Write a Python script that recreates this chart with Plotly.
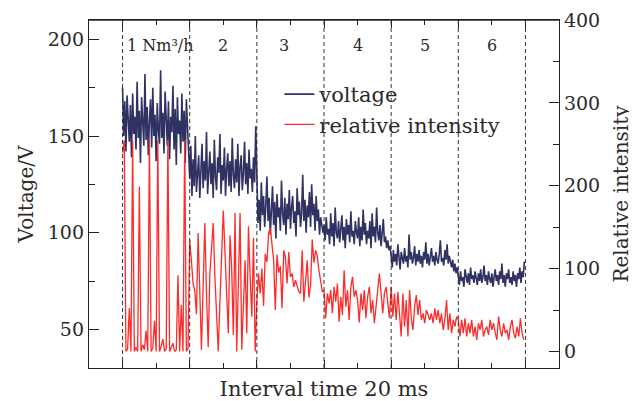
import numpy as np
import plotly.graph_objects as go

# ---------------- data ----------------
VOLT_SAMPLES_PER_SECTION = 60
INT_SAMPLES_PER_SECTION = 40
section_labels = ["1 Nm³/h", "2", "3", "4", "5", "6"]
boundary_ticks = [0, 1, 2, 3, 4, 5, 6]

volt_s1 = [175, 150, 168, 142, 171, 155, 147, 166, 139, 172, 151, 160, 143, 178, 149, 163, 136, 170, 154, 145,
           182, 148, 165, 140, 158, 169, 144, 175, 150, 161, 137, 167, 153, 146, 184, 149, 162, 141, 173, 155,
           145, 168, 138, 160, 152, 176, 143, 164, 135, 170, 151, 158, 141, 172, 147, 163, 136, 169, 150, 142]
volt_s2 = [128, 145, 119, 138, 124, 150, 121, 134, 140, 118, 131, 146, 123, 137, 127, 152, 120, 133, 142, 125,
           136, 118, 148, 129, 122, 139, 131, 151, 120, 135, 127, 144, 119, 133, 141, 124, 137, 121, 149, 130,
           123, 138, 126, 146, 119, 134, 140, 122, 131, 147, 125, 136, 120, 143, 128, 133, 121, 139, 126, 155]
volt_s3 = [122, 105, 117, 101, 126, 109, 119, 103, 114, 129, 106, 118, 99, 112, 124, 104, 116, 97, 120, 108,
           113, 101, 127, 110, 104, 118, 99, 115, 107, 122, 102, 113, 119, 105, 111, 98, 123, 109, 116, 103,
           110, 130, 106, 117, 100, 114, 108, 121, 103, 125, 109, 115, 101, 119, 106, 112, 99, 108, 102, 100]
volt_s4 = [104, 96, 108, 99, 102, 94, 110, 98, 105, 93, 113, 100, 97, 106, 95, 102, 109, 96, 103, 92,
           107, 99, 104, 95, 111, 98, 101, 94, 106, 100, 97, 108, 93, 103, 96, 112, 99, 105, 94, 101,
           97, 106, 92, 110, 98, 103, 95, 113, 100, 96, 104, 93, 99, 107, 95, 98, 92, 96, 91, 93]
volt_s5 = [88, 82, 91, 85, 89, 83, 94, 86, 81, 90, 87, 84, 92, 85, 88, 82, 99, 86, 90, 84,
           87, 93, 83, 89, 85, 91, 84, 88, 82, 90, 86, 95, 84, 89, 83, 87, 92, 85, 88, 83,
           90, 86, 84, 89, 96, 85, 87, 83, 91, 86, 94, 84, 88, 85, 82, 86, 80, 84, 79, 82]
volt_s6 = [78, 73, 80, 75, 77, 72, 81, 76, 74, 79, 73, 82, 76, 78, 74, 80, 77, 73, 79, 75,
           81, 74, 77, 83, 75, 78, 73, 80, 76, 74, 79, 72, 77, 81, 75, 78, 73, 80, 76, 84,
           74, 78, 72, 79, 76, 81, 74, 77, 73, 80, 75, 78, 72, 79, 76, 82, 74, 80, 77, 85]

inten_s1 = [240, 255, 0, 3, 52, 0, 255, 0, 5, 0, 199, 0, 8, 2, 25, 0, 255, 0, 4, 37,
            0, 255, 0, 6, 15, 0, 3, 255, 0, 5, 10, 0, 2, 92, 0, 56, 0, 255, 0, 4]
inten_s2 = [134, 110, 82, 73, 45, 143, 70, 2, 80, 155, 70, 5, 94, 120, 155, 90, 40, 0, 60, 115,
            170, 120, 75, 22, 140, 100, 20, 167, 0, 90, 167, 2, 60, 110, 22, 151, 90, 42, 137, 0]
inten_s3 = [60, 94, 70, 100, 55, 118, 108, 143, 149, 131, 110, 50, 117, 95, 103, 52, 122, 114, 82, 120,
            90, 94, 78, 86, 80, 72, 70, 122, 60, 82, 110, 65, 80, 135, 107, 122, 115, 98, 85, 72]
inten_s4 = [74, 40, 70, 58, 74, 46, 78, 60, 82, 36, 66, 44, 98, 54, 74, 38, 78, 90, 66, 74,
            62, 35, 70, 50, 74, 40, 66, 78, 46, 62, 34, 58, 74, 94, 66, 46, 70, 78, 58, 40]
inten_s5 = [78, 42, 70, 38, 72, 46, 18, 70, 30, 62, 18, 74, 40, 26, 54, 68, 44, 62, 38, 46,
            34, 50, 44, 38, 46, 34, 52, 38, 50, 34, 46, 26, 38, 62, 26, 46, 22, 38, 30, 42]
inten_s6 = [38, 18, 38, 22, 40, 18, 34, 22, 38, 18, 30, 14, 34, 26, 38, 18, 26, 30, 20, 38,
            26, 34, 22, 14, 42, 26, 18, 34, 22, 26, 14, 30, 38, 22, 16, 30, 18, 40, 22, 14]

voltage = volt_s1 + volt_s2 + volt_s3 + volt_s4 + volt_s5 + volt_s6
intensity = inten_s1 + inten_s2 + inten_s3 + inten_s4 + inten_s5 + inten_s6
# sample time, in units of one flow-rate section
t_volt = np.arange(len(voltage)) / VOLT_SAMPLES_PER_SECTION
t_int = np.arange(len(intensity)) / INT_SAMPLES_PER_SECTION

# ---------------- styling ----------------
FONT = "DejaVu Serif"
TXT = "#2a2a2a"
AX = "#222222"
VOLT_COLOR = "#2f3263"
INT_COLOR = "#ff2a2a"

fig = go.Figure()
fig.add_trace(go.Scatter(x=t_volt, y=voltage, mode="lines", name="voltage",
                         line=dict(color=VOLT_COLOR, width=1.6), yaxis="y"))
fig.add_trace(go.Scatter(x=t_int, y=intensity, mode="lines", name="relative intensity",
                         line=dict(color=INT_COLOR, width=1.3), yaxis="y2"))

for b in boundary_ticks:
    fig.add_shape(type="line", xref="x", yref="paper", x0=b, x1=b, y0=0, y1=1,
                  line=dict(color="#333333", width=1, dash="4px,3px"), layer="above")
# top frame line
fig.add_shape(type="line", xref="paper", yref="paper", x0=0, x1=1, y0=1, y1=1,
              line=dict(color=AX, width=1.3), layer="above")

for i, lab in enumerate(section_labels):
    if i == 0:
        fig.add_annotation(x=i + 0.03, xref="x", y=0.928, yref="paper", text=lab,
                           showarrow=False, xanchor="left", yanchor="middle",
                           font=dict(family=FONT, size=16, color=TXT))
    else:
        xpos = i + 0.5 if i != 2 else i + 0.4
        fig.add_annotation(x=xpos, xref="x", y=0.928, yref="paper", text=lab,
                           showarrow=False, xanchor="center", yanchor="middle",
                           font=dict(family=FONT, size=16, color=TXT))

axis_common = dict(showline=True, linecolor=AX, linewidth=1.3, showgrid=False,
                   zeroline=False, tickcolor=AX, ticks="inside", automargin=False)

# the page body has an 8px default margin, so the figure is sized to fit the window
fig.update_layout(
    template="none",
    width=629, height=393,
    margin=dict(l=81, r=78, t=12, b=33),
    paper_bgcolor="white", plot_bgcolor="white",
    font=dict(family=FONT, color=TXT),
    showlegend=True,
    legend=dict(x=0.405, y=0.845, xanchor="left", yanchor="top", bgcolor="rgba(0,0,0,0)",
                font=dict(family=FONT, size=21, color=TXT), itemwidth=30,
                tracegroupgap=0),
    xaxis=dict(range=[-0.5, 6.5], tickvals=boundary_ticks, showticklabels=False,
               ticklen=8, mirror="ticks",
               minor=dict(dtick=0.5, tick0=0, ticks="inside", ticklen=5, tickcolor=AX),
               title=dict(text="Interval time 20 ms", font=dict(family=FONT, size=21, color=TXT),
                          standoff=20),
               **axis_common),
    yaxis=dict(range=[30, 210], tickvals=[50, 100, 150, 200], ticklen=10,
               minor=dict(dtick=25, tick0=0, ticks="inside", ticklen=6, tickcolor=AX),
               tickfont=dict(family=FONT, size=19, color=TXT),
               title=dict(text="Voltage/V", font=dict(family=FONT, size=20, color=TXT), standoff=8),
               **axis_common),
    yaxis2=dict(range=[-20, 400], overlaying="y", side="right", tickvals=[0, 100, 200, 300, 400],
                ticklen=10,
                minor=dict(dtick=50, tick0=0, ticks="inside", ticklen=6, tickcolor=AX),
                tickfont=dict(family=FONT, size=19, color=TXT),
                title=dict(text="Relative intensity", font=dict(family=FONT, size=20, color=TXT),
                           standoff=14),
                **axis_common),
)

fig.write_html("out.html")
